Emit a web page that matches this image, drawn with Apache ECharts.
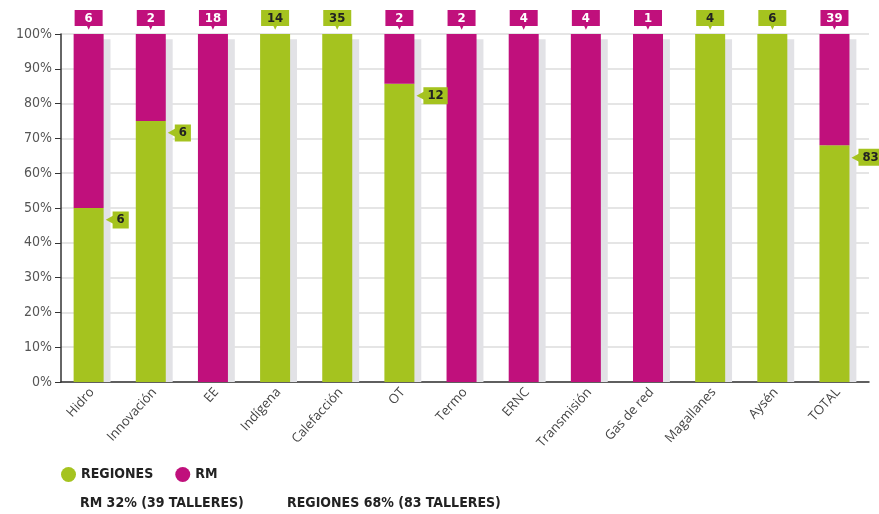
<!DOCTYPE html>
<html><head><meta charset="utf-8">
<script src="https://cdn.jsdelivr.net/npm/echarts@6/dist/echarts.min.js"></script>
<style>html,body{margin:0;padding:0;background:#fff}#c{width:879px;height:514px}</style>
</head><body><div id="c"></div>
<script>
const categories = ['Hidro','Innovación','EE','Indígena','Calefacción','OT','Termo','ERNC','Transmisión','Gas de red','Magallanes','Aysén','TOTAL'];
const regiones = [6,6,0,14,35,12,0,0,0,0,4,6,83];
const rm = [6,2,18,0,0,2,2,4,4,1,0,0,39];
const yTicks = [0,10,20,30,40,50,60,70,80,90,100];
const notes = ['RM 32% (39 TALLERES)','REGIONES 68% (83 TALLERES)'];

const GREEN = '#a5c31f', MAG = '#c0107c';
const FONT = '"DejaVu Sans Condensed","DejaVu Sans",sans-serif';
const XFONT = '"Open Sans",sans-serif';
const pct = (a,i) => { const t = regiones[i] + rm[i]; return t ? a[i] / t * 100 : 0; };

const topRich = (bg, fg) => ({
  b:{backgroundColor:bg,color:fg,fontWeight:'bold',fontSize:13,fontFamily:FONT,width:22,align:'center',padding:[2,3,1,3],lineHeight:14},
  t:{color:bg,fontSize:7,lineHeight:6,align:'center',width:28,padding:[-1,0,0,0]}
});
const sideRich = {
  a:{color:GREEN,fontSize:13,padding:[0,-2,0,0]},
  b:{backgroundColor:GREEN,color:'#222',fontWeight:'bold',fontSize:13,fontFamily:FONT,padding:[2,4,2,4],lineHeight:14}
};

const regData = categories.map((c,i) => {
  const item = {value: pct(regiones,i)};
  if (rm[i] === 0 && regiones[i] > 0) {
    item.label = {show:true, position:'top', distance:3, formatter:'{b|'+regiones[i]+'}\n{t|▼}', rich: topRich(GREEN,'#222')};
  } else if (rm[i] > 0 && regiones[i] > 0) {
    item.label = {show:true, position:['100%', 12], offset:[2,0], align:'left', verticalAlign:'middle', formatter:'{a|◀}{b|'+regiones[i]+'}', rich: sideRich};
  }
  return item;
});
const rmData = categories.map((c,i) => {
  const item = {value: pct(rm,i)};
  if (rm[i] > 0) item.label = {show:true, position:'top', distance:3, formatter:'{b|'+rm[i]+'}\n{t|▼}', rich: topRich(MAG,'#fff')};
  return item;
});
const shadowData = categories.map(() => 98.5);

const chart = echarts.init(document.getElementById('c'));
chart.setOption({
  animation:false,
  textStyle:{fontFamily:FONT},
  grid:{left:61, right:10, top:34, bottom:132},
  legend:{data:['REGIONES','RM'], left:56, top:462, icon:'circle', itemWidth:15, itemHeight:15, itemGap:22,
    textStyle:{fontFamily:FONT, fontSize:14, fontWeight:'bold', color:'#222'}},
  graphic:[
    {type:'text', left:80, top:496, style:{text:notes[0], font:'bold 14px '+FONT, fill:'#222'}},
    {type:'text', left:287, top:496, style:{text:notes[1], font:'bold 14px '+FONT, fill:'#222'}}
  ],
  xAxis:{type:'category', data:categories,
    axisLine:{lineStyle:{color:'#333', width:1.5}}, axisTick:{show:false},
    axisLabel:{rotate:48, fontSize:13, color:'#444', margin:8, interval:0, fontFamily:XFONT}},
  yAxis:{type:'value', min:0, max:100, interval:10,
    axisLine:{show:true, lineStyle:{color:'#333', width:1.5}},
    axisTick:{show:true, length:6, lineStyle:{color:'#333'}},
    axisLabel:{formatter: v => yTicks.includes(v) ? v+'%' : '', fontSize:14, color:'#555', margin:9, fontFamily:FONT},
    splitLine:{lineStyle:{color:'#dcdcdc', width:1.5}}},
  series:[
    {name:'REGIONES', type:'bar', stack:'main', barWidth:30, barGap:'-77%', data:regData, itemStyle:{color:GREEN}, z:3},
    {name:'RM', type:'bar', stack:'main', barWidth:30, data:rmData, itemStyle:{color:MAG}, z:3},
    {name:'shadow', type:'bar', stack:'sh', barWidth:30, data:shadowData, itemStyle:{color:'#e2e2e6'}, z:2, silent:true, label:{show:false}}
  ]
});
</script></body></html>
